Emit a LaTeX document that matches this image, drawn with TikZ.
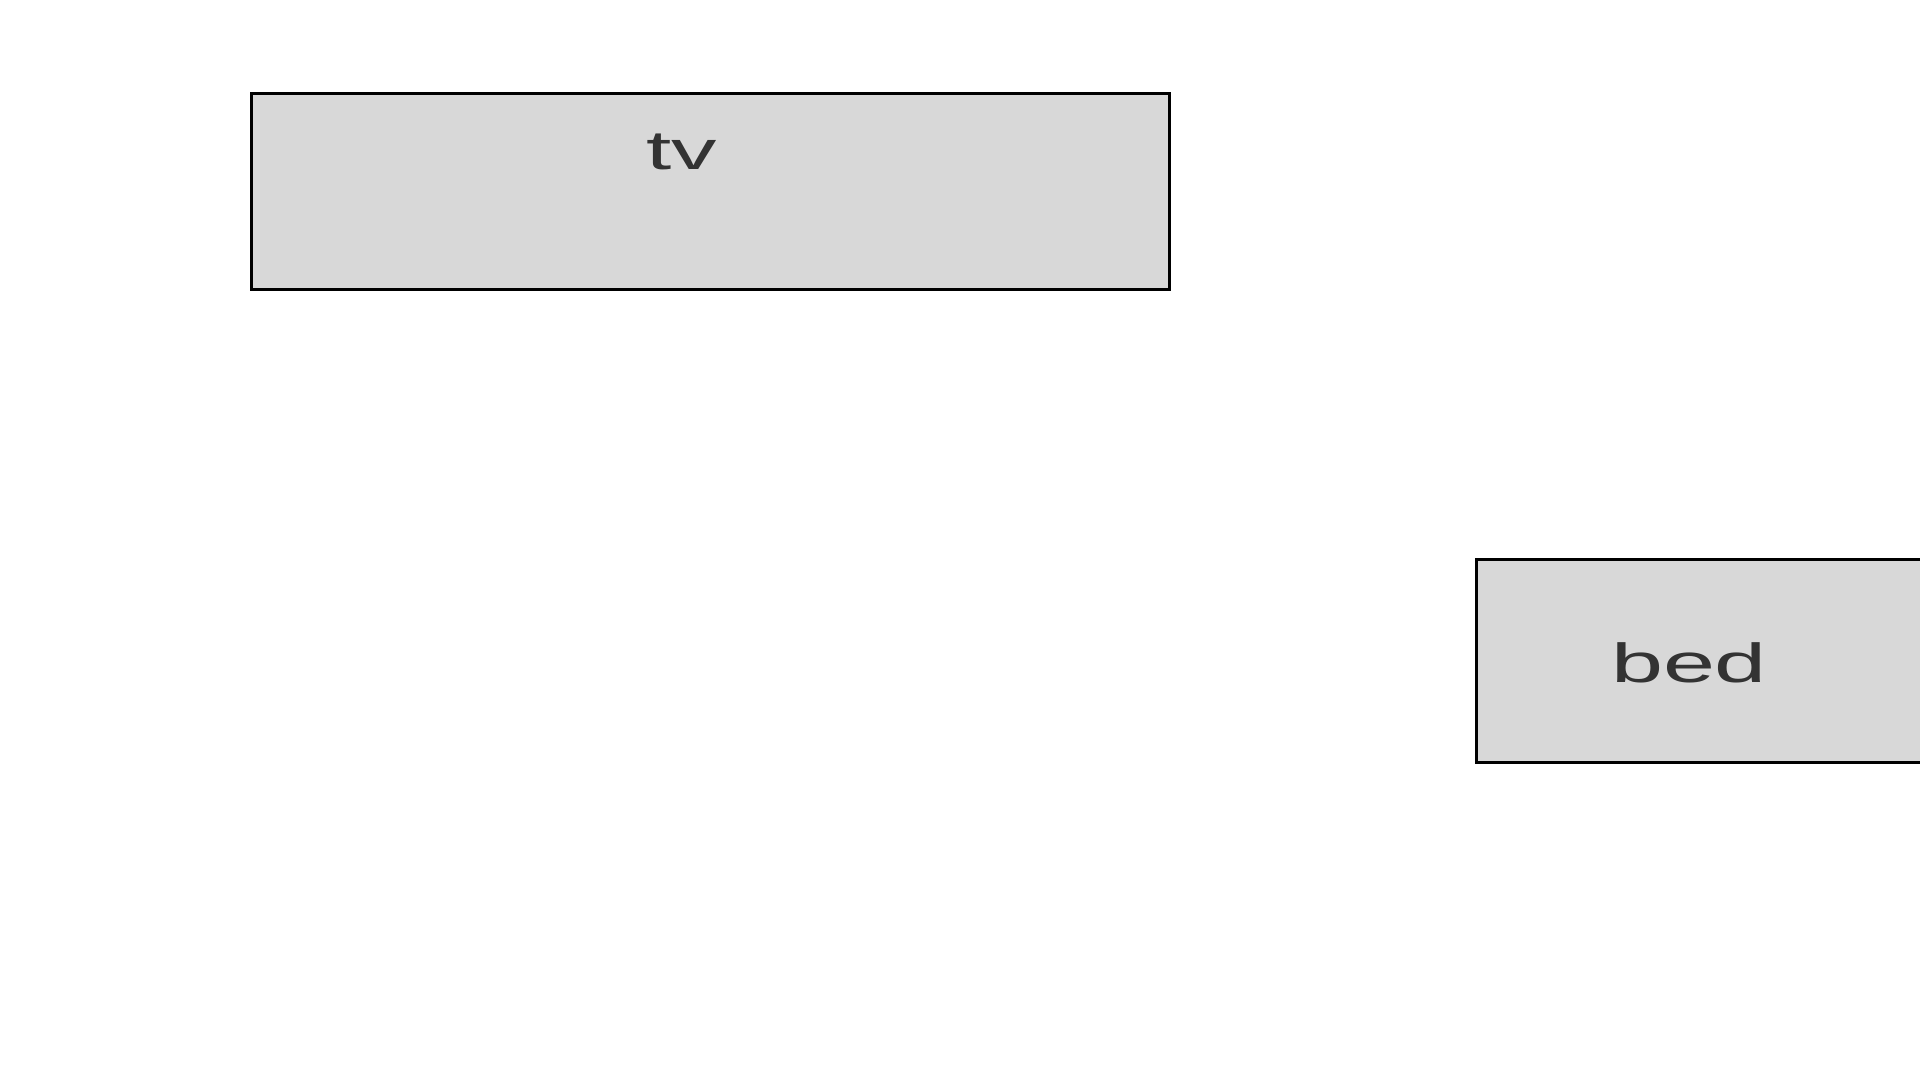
\documentclass[tikz,border=0pt]{standalone}
\usepackage{fontspec}
\setmainfont{Liberation Sans}
\usepackage{graphicx}
\definecolor{boxfill}{HTML}{D8D8D8}
\definecolor{txt}{HTML}{333333}
\tikzset{
  furniture/.style={draw=black, line width=1.6pt, fill=boxfill, inner sep=0pt, outer sep=0pt, rectangle},
  flabel/.style={anchor=base, text=txt, inner sep=0pt, font=\fontsize{27.5}{30}\selectfont},
}
\begin{document}
\begin{tikzpicture}[x=0.5pt, y=-0.5pt]
\useasboundingbox (0,0) rectangle (1920,1080);
\fill[white] (0,0) rectangle (1920,1080);
\node[furniture, minimum width=918*0.5pt, minimum height=196*0.5pt] (tv) at (710.5,191.5) {};
\node[furniture, minimum width=480*0.5pt, minimum height=203*0.5pt, anchor=north west] (bed) at (1476.5,559.5) {};
\node[flabel] (tvlabel) at (682,170) {\scalebox{1.65}[1]{tv}};
\node[flabel] (bedlabel) at (1689,682) {\scalebox{1.7}[1]{bed}};
\end{tikzpicture}
\end{document}
